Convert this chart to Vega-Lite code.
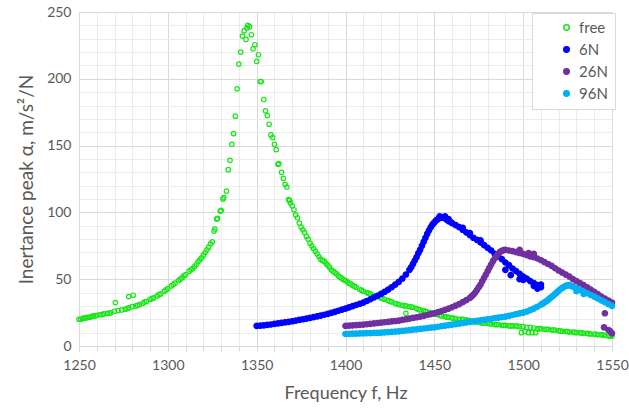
{
"$schema":"https://vega.github.io/schema/vega-lite/v6.json",
"width":533,"height":334,
"autosize":{"type":"none"},
"padding":{"left":79,"top":12,"right":17,"bottom":62},
"background":"white",
"config":{"view":{"stroke":null},"font":"Lato"},
"data":{"values":[
{"s":"free","f":1250,"a":20},{"s":"free","f":1251,"a":20},{"s":"free","f":1252,"a":20.5},{"s":"free","f":1253,"a":21},{"s":"free","f":1254,"a":21},{"s":"free","f":1255,"a":21.5},{"s":"free","f":1256,"a":21.5},{"s":"free","f":1257,"a":22},{"s":"free","f":1258,"a":22.5},{"s":"free","f":1259,"a":22.5},{"s":"free","f":1260,"a":23},{"s":"free","f":1262,"a":23.5},{"s":"free","f":1263,"a":23.5},{"s":"free","f":1264,"a":24},{"s":"free","f":1266,"a":24.5},{"s":"free","f":1267,"a":24.5},{"s":"free","f":1268,"a":25},{"s":"free","f":1270,"a":26},{"s":"free","f":1270.5,"a":32.5},{"s":"free","f":1272,"a":26.5},{"s":"free","f":1274,"a":27},{"s":"free","f":1276,"a":27.5},{"s":"free","f":1277,"a":28},{"s":"free","f":1278,"a":28.5},{"s":"free","f":1278,"a":37},{"s":"free","f":1280,"a":29.5},{"s":"free","f":1280.5,"a":38},{"s":"free","f":1282,"a":30},{"s":"free","f":1283,"a":30.5},{"s":"free","f":1284,"a":31},{"s":"free","f":1286,"a":32},{"s":"free","f":1287,"a":33},{"s":"free","f":1288,"a":33.5},{"s":"free","f":1290,"a":35},{"s":"free","f":1291,"a":35.5},{"s":"free","f":1292,"a":36},{"s":"free","f":1294,"a":37.5},{"s":"free","f":1295,"a":38.5},{"s":"free","f":1296,"a":39},{"s":"free","f":1298,"a":41},{"s":"free","f":1299,"a":42},{"s":"free","f":1300,"a":43},{"s":"free","f":1302,"a":45},{"s":"free","f":1303,"a":46},{"s":"free","f":1304,"a":47},{"s":"free","f":1306,"a":49},{"s":"free","f":1307,"a":50},{"s":"free","f":1308,"a":51},{"s":"free","f":1309,"a":52.5},{"s":"free","f":1310,"a":53.5},{"s":"free","f":1312,"a":56},{"s":"free","f":1313,"a":57},{"s":"free","f":1314,"a":58},{"s":"free","f":1315,"a":59.5},{"s":"free","f":1316,"a":61},{"s":"free","f":1317,"a":63},{"s":"free","f":1318,"a":64.5},{"s":"free","f":1319,"a":66},{"s":"free","f":1320,"a":68},{"s":"free","f":1321,"a":70},{"s":"free","f":1322,"a":72},{"s":"free","f":1323,"a":74},{"s":"free","f":1324,"a":76.5},{"s":"free","f":1325,"a":78},{"s":"free","f":1326,"a":86},{"s":"free","f":1326.5,"a":87.5},{"s":"free","f":1327.5,"a":95},{"s":"free","f":1328,"a":95.5},{"s":"free","f":1329.5,"a":101},{"s":"free","f":1330,"a":101.5},{"s":"free","f":1331,"a":110},{"s":"free","f":1331.5,"a":111},{"s":"free","f":1333,"a":116},{"s":"free","f":1334,"a":132},{"s":"free","f":1335,"a":139},{"s":"free","f":1336,"a":151},{"s":"free","f":1337,"a":159},{"s":"free","f":1338,"a":172},{"s":"free","f":1339,"a":192.5},{"s":"free","f":1340,"a":211},{"s":"free","f":1341,"a":220},{"s":"free","f":1342,"a":232},{"s":"free","f":1343,"a":236},{"s":"free","f":1344,"a":229.5},{"s":"free","f":1344.5,"a":238},{"s":"free","f":1345,"a":240},{"s":"free","f":1346,"a":239},{"s":"free","f":1347,"a":233},{"s":"free","f":1348,"a":222.5},{"s":"free","f":1349,"a":225.5},{"s":"free","f":1350,"a":213},{"s":"free","f":1351,"a":218},{"s":"free","f":1352,"a":198},{"s":"free","f":1352.5,"a":198},{"s":"free","f":1354,"a":184.5},{"s":"free","f":1355,"a":176},{"s":"free","f":1356,"a":172.5},{"s":"free","f":1357,"a":166},{"s":"free","f":1358,"a":158},{"s":"free","f":1359,"a":156},{"s":"free","f":1360,"a":151},{"s":"free","f":1361,"a":147},{"s":"free","f":1362,"a":136},{"s":"free","f":1362.5,"a":136.5},{"s":"free","f":1364,"a":130},{"s":"free","f":1365,"a":125.5},{"s":"free","f":1366,"a":121},{"s":"free","f":1367,"a":119},{"s":"free","f":1368,"a":109.5},{"s":"free","f":1368.5,"a":109},{"s":"free","f":1369,"a":107},{"s":"free","f":1370,"a":105},{"s":"free","f":1371,"a":102},{"s":"free","f":1372,"a":98},{"s":"free","f":1373,"a":96},{"s":"free","f":1374,"a":92},{"s":"free","f":1375,"a":89},{"s":"free","f":1376,"a":87},{"s":"free","f":1377,"a":85},{"s":"free","f":1378,"a":82},{"s":"free","f":1379,"a":80},{"s":"free","f":1380,"a":77},{"s":"free","f":1381,"a":75},{"s":"free","f":1382,"a":73},{"s":"free","f":1383,"a":71},{"s":"free","f":1384,"a":69},{"s":"free","f":1385,"a":67},{"s":"free","f":1386,"a":65},{"s":"free","f":1387,"a":64},{"s":"free","f":1388,"a":63.5},{"s":"free","f":1389,"a":62},{"s":"free","f":1390,"a":60.5},{"s":"free","f":1391,"a":59},{"s":"free","f":1392,"a":57},{"s":"free","f":1393,"a":56},{"s":"free","f":1394,"a":55},{"s":"free","f":1395,"a":54},{"s":"free","f":1396,"a":52.5},{"s":"free","f":1397,"a":51.5},{"s":"free","f":1398,"a":50.5},{"s":"free","f":1399,"a":49.5},{"s":"free","f":1400,"a":49},{"s":"free","f":1401,"a":48},{"s":"free","f":1402,"a":47},{"s":"free","f":1403,"a":46.5},{"s":"free","f":1404,"a":45.5},{"s":"free","f":1405,"a":44.8},{"s":"free","f":1406,"a":44},{"s":"free","f":1408,"a":42.5},{"s":"free","f":1409,"a":41.8},{"s":"free","f":1410,"a":41},{"s":"free","f":1412,"a":40},{"s":"free","f":1413,"a":39.5},{"s":"free","f":1414,"a":39},{"s":"free","f":1416,"a":38},{"s":"free","f":1417,"a":37.5},{"s":"free","f":1418,"a":37},{"s":"free","f":1420,"a":36},{"s":"free","f":1421,"a":35.5},{"s":"free","f":1422,"a":35},{"s":"free","f":1424,"a":34},{"s":"free","f":1425,"a":33.5},{"s":"free","f":1426,"a":33},{"s":"free","f":1428,"a":32},{"s":"free","f":1429,"a":31.5},{"s":"free","f":1430,"a":31},{"s":"free","f":1432,"a":30.5},{"s":"free","f":1433,"a":30.2},{"s":"free","f":1434,"a":30},{"s":"free","f":1434,"a":24.5},{"s":"free","f":1436,"a":29.5},{"s":"free","f":1437,"a":29.2},{"s":"free","f":1438,"a":29},{"s":"free","f":1440,"a":28},{"s":"free","f":1441,"a":27.5},{"s":"free","f":1442,"a":27},{"s":"free","f":1444,"a":26.5},{"s":"free","f":1445,"a":26},{"s":"free","f":1446,"a":25.5},{"s":"free","f":1448,"a":25},{"s":"free","f":1449,"a":24.5},{"s":"free","f":1450,"a":24},{"s":"free","f":1452,"a":23.5},{"s":"free","f":1453,"a":23},{"s":"free","f":1454,"a":22.5},{"s":"free","f":1456,"a":22},{"s":"free","f":1457,"a":21.8},{"s":"free","f":1458,"a":21.5},{"s":"free","f":1460,"a":21},{"s":"free","f":1461,"a":20.8},{"s":"free","f":1462,"a":20.5},{"s":"free","f":1464,"a":20},{"s":"free","f":1465,"a":20},{"s":"free","f":1466,"a":20},{"s":"free","f":1468,"a":19.5},{"s":"free","f":1469,"a":19.2},{"s":"free","f":1470,"a":19},{"s":"free","f":1472,"a":18.5},{"s":"free","f":1473,"a":18.2},{"s":"free","f":1474,"a":18},{"s":"free","f":1476,"a":17.5},{"s":"free","f":1477,"a":17.2},{"s":"free","f":1478,"a":17},{"s":"free","f":1480,"a":17},{"s":"free","f":1481,"a":16.8},{"s":"free","f":1482,"a":16.5},{"s":"free","f":1484,"a":16},{"s":"free","f":1485,"a":16},{"s":"free","f":1486,"a":16},{"s":"free","f":1488,"a":15.5},{"s":"free","f":1489,"a":15.5},{"s":"free","f":1490,"a":15.5},{"s":"free","f":1492,"a":15},{"s":"free","f":1493,"a":15},{"s":"free","f":1494,"a":15},{"s":"free","f":1496,"a":15},{"s":"free","f":1497,"a":14.8},{"s":"free","f":1498,"a":14.5},{"s":"free","f":1499,"a":10},{"s":"free","f":1500,"a":14.5},{"s":"free","f":1501,"a":11},{"s":"free","f":1502,"a":14},{"s":"free","f":1503,"a":10},{"s":"free","f":1504,"a":14},{"s":"free","f":1505,"a":10},{"s":"free","f":1506,"a":13.5},{"s":"free","f":1507,"a":10},{"s":"free","f":1508,"a":13},{"s":"free","f":1509,"a":13},{"s":"free","f":1510,"a":13},{"s":"free","f":1512,"a":12.5},{"s":"free","f":1513,"a":12.5},{"s":"free","f":1514,"a":12.5},{"s":"free","f":1516,"a":12},{"s":"free","f":1517,"a":12},{"s":"free","f":1518,"a":12},{"s":"free","f":1520,"a":11.5},{"s":"free","f":1521,"a":11.2},{"s":"free","f":1522,"a":11},{"s":"free","f":1524,"a":11},{"s":"free","f":1525,"a":10.8},{"s":"free","f":1526,"a":10.5},{"s":"free","f":1528,"a":10.5},{"s":"free","f":1529,"a":10.2},{"s":"free","f":1530,"a":10},{"s":"free","f":1532,"a":10},{"s":"free","f":1533,"a":9.8},{"s":"free","f":1534,"a":9.5},{"s":"free","f":1536,"a":9.5},{"s":"free","f":1537,"a":9.2},{"s":"free","f":1538,"a":9},{"s":"free","f":1540,"a":9},{"s":"free","f":1541,"a":8.8},{"s":"free","f":1542,"a":8.5},{"s":"free","f":1544,"a":8.5},{"s":"free","f":1545,"a":8.2},{"s":"free","f":1546,"a":8},{"s":"free","f":1548,"a":7.5},{"s":"free","f":1549,"a":7.5},{"s":"free","f":1550,"a":7.5},
{"s":"6N","f":1350,"a":15},{"s":"6N","f":1352,"a":15.2},{"s":"6N","f":1354,"a":15.5},{"s":"6N","f":1356,"a":15.8},{"s":"6N","f":1358,"a":16.1},{"s":"6N","f":1360,"a":16.5},{"s":"6N","f":1362,"a":16.9},{"s":"6N","f":1364,"a":17.3},{"s":"6N","f":1366,"a":17.7},{"s":"6N","f":1368,"a":18.1},{"s":"6N","f":1370,"a":18.5},{"s":"6N","f":1372,"a":19},{"s":"6N","f":1374,"a":19.5},{"s":"6N","f":1376,"a":20},{"s":"6N","f":1378,"a":20.5},{"s":"6N","f":1380,"a":21},{"s":"6N","f":1382,"a":21.6},{"s":"6N","f":1384,"a":22.2},{"s":"6N","f":1386,"a":22.8},{"s":"6N","f":1388,"a":23.4},{"s":"6N","f":1390,"a":24},{"s":"6N","f":1392,"a":24.8},{"s":"6N","f":1394,"a":25.6},{"s":"6N","f":1396,"a":26.4},{"s":"6N","f":1398,"a":27.2},{"s":"6N","f":1400,"a":28},{"s":"6N","f":1402,"a":28.9},{"s":"6N","f":1404,"a":29.8},{"s":"6N","f":1406,"a":30.7},{"s":"6N","f":1408,"a":31.6},{"s":"6N","f":1410,"a":32.5},{"s":"6N","f":1412,"a":33.7},{"s":"6N","f":1414,"a":35},{"s":"6N","f":1416,"a":36.3},{"s":"6N","f":1418,"a":37.6},{"s":"6N","f":1420,"a":39},{"s":"6N","f":1422,"a":40.5},{"s":"6N","f":1424,"a":42.2},{"s":"6N","f":1426,"a":44},{"s":"6N","f":1428,"a":46},{"s":"6N","f":1430,"a":48},{"s":"6N","f":1432,"a":50.5},{"s":"6N","f":1434,"a":53.5},{"s":"6N","f":1436,"a":57},{"s":"6N","f":1437,"a":59},{"s":"6N","f":1438,"a":61.5},{"s":"6N","f":1439,"a":64},{"s":"6N","f":1440,"a":66.5},{"s":"6N","f":1441,"a":69.5},{"s":"6N","f":1442,"a":72},{"s":"6N","f":1443,"a":75},{"s":"6N","f":1444,"a":78},{"s":"6N","f":1445,"a":81},{"s":"6N","f":1446,"a":84},{"s":"6N","f":1447,"a":86.5},{"s":"6N","f":1448,"a":89},{"s":"6N","f":1449,"a":91},{"s":"6N","f":1450,"a":92.5},{"s":"6N","f":1451,"a":94},{"s":"6N","f":1452,"a":95},{"s":"6N","f":1453,"a":95.8},{"s":"6N","f":1453,"a":97},{"s":"6N","f":1454,"a":96},{"s":"6N","f":1455,"a":96.2},{"s":"6N","f":1456,"a":95.5},{"s":"6N","f":1456,"a":97},{"s":"6N","f":1457,"a":94.5},{"s":"6N","f":1458,"a":93.5},{"s":"6N","f":1458,"a":95},{"s":"6N","f":1459,"a":93},{"s":"6N","f":1460,"a":92},{"s":"6N","f":1462,"a":90.5},{"s":"6N","f":1464,"a":89},{"s":"6N","f":1466,"a":87},{"s":"6N","f":1466,"a":88.5},{"s":"6N","f":1468,"a":85},{"s":"6N","f":1470,"a":83},{"s":"6N","f":1470,"a":84.5},{"s":"6N","f":1472,"a":81},{"s":"6N","f":1474,"a":79.5},{"s":"6N","f":1476,"a":77.5},{"s":"6N","f":1476,"a":79},{"s":"6N","f":1478,"a":75.5},{"s":"6N","f":1480,"a":73.5},{"s":"6N","f":1482,"a":71.5},{"s":"6N","f":1484,"a":69},{"s":"6N","f":1486,"a":67},{"s":"6N","f":1488,"a":65},{"s":"6N","f":1490,"a":62.5},{"s":"6N","f":1490,"a":57},{"s":"6N","f":1492,"a":60.5},{"s":"6N","f":1493,"a":53},{"s":"6N","f":1494,"a":58},{"s":"6N","f":1496,"a":56},{"s":"6N","f":1498,"a":54},{"s":"6N","f":1498,"a":50},{"s":"6N","f":1500,"a":52},{"s":"6N","f":1500,"a":49.5},{"s":"6N","f":1502,"a":50.5},{"s":"6N","f":1504,"a":48.5},{"s":"6N","f":1506,"a":47},{"s":"6N","f":1506,"a":45},{"s":"6N","f":1508,"a":45.5},{"s":"6N","f":1508,"a":43},{"s":"6N","f":1510,"a":44},{"s":"6N","f":1510,"a":46},
{"s":"26N","f":1400,"a":15},{"s":"26N","f":1402,"a":15.2},{"s":"26N","f":1404,"a":15.4},{"s":"26N","f":1406,"a":15.6},{"s":"26N","f":1408,"a":15.8},{"s":"26N","f":1410,"a":16},{"s":"26N","f":1412,"a":16.3},{"s":"26N","f":1414,"a":16.6},{"s":"26N","f":1416,"a":16.9},{"s":"26N","f":1418,"a":17.2},{"s":"26N","f":1420,"a":17.5},{"s":"26N","f":1422,"a":17.8},{"s":"26N","f":1424,"a":18.1},{"s":"26N","f":1426,"a":18.4},{"s":"26N","f":1428,"a":18.7},{"s":"26N","f":1430,"a":19},{"s":"26N","f":1432,"a":19.5},{"s":"26N","f":1434,"a":20},{"s":"26N","f":1436,"a":20.5},{"s":"26N","f":1438,"a":21},{"s":"26N","f":1440,"a":21.5},{"s":"26N","f":1442,"a":22},{"s":"26N","f":1444,"a":22.6},{"s":"26N","f":1446,"a":23.2},{"s":"26N","f":1448,"a":23.8},{"s":"26N","f":1450,"a":24.5},{"s":"26N","f":1452,"a":25.3},{"s":"26N","f":1454,"a":26.1},{"s":"26N","f":1456,"a":27},{"s":"26N","f":1458,"a":28},{"s":"26N","f":1460,"a":29},{"s":"26N","f":1462,"a":30.2},{"s":"26N","f":1464,"a":31.4},{"s":"26N","f":1466,"a":32.8},{"s":"26N","f":1468,"a":34.3},{"s":"26N","f":1470,"a":36},{"s":"26N","f":1471,"a":37.2},{"s":"26N","f":1472,"a":38.5},{"s":"26N","f":1473,"a":40},{"s":"26N","f":1474,"a":42},{"s":"26N","f":1475,"a":44},{"s":"26N","f":1476,"a":46},{"s":"26N","f":1477,"a":48.5},{"s":"26N","f":1478,"a":51},{"s":"26N","f":1479,"a":53.5},{"s":"26N","f":1480,"a":56},{"s":"26N","f":1481,"a":58.5},{"s":"26N","f":1482,"a":61},{"s":"26N","f":1483,"a":63.5},{"s":"26N","f":1484,"a":65.5},{"s":"26N","f":1485,"a":67.5},{"s":"26N","f":1486,"a":69},{"s":"26N","f":1487,"a":70.5},{"s":"26N","f":1488,"a":71.2},{"s":"26N","f":1489,"a":71.8},{"s":"26N","f":1490,"a":72},{"s":"26N","f":1492,"a":71.5},{"s":"26N","f":1494,"a":71},{"s":"26N","f":1496,"a":70.3},{"s":"26N","f":1498,"a":69.6},{"s":"26N","f":1498,"a":72},{"s":"26N","f":1500,"a":69},{"s":"26N","f":1502,"a":68},{"s":"26N","f":1503,"a":69.5},{"s":"26N","f":1504,"a":67},{"s":"26N","f":1505,"a":68.5},{"s":"26N","f":1506,"a":66.5},{"s":"26N","f":1506,"a":69},{"s":"26N","f":1508,"a":65.5},{"s":"26N","f":1510,"a":64.2},{"s":"26N","f":1512,"a":62.8},{"s":"26N","f":1514,"a":61.4},{"s":"26N","f":1516,"a":60},{"s":"26N","f":1518,"a":58.2},{"s":"26N","f":1520,"a":56.5},{"s":"26N","f":1522,"a":55},{"s":"26N","f":1524,"a":53.5},{"s":"26N","f":1526,"a":52},{"s":"26N","f":1528,"a":50},{"s":"26N","f":1530,"a":48.5},{"s":"26N","f":1532,"a":47},{"s":"26N","f":1534,"a":45.5},{"s":"26N","f":1536,"a":44},{"s":"26N","f":1538,"a":42.2},{"s":"26N","f":1540,"a":40.5},{"s":"26N","f":1542,"a":38.8},{"s":"26N","f":1544,"a":37},{"s":"26N","f":1546,"a":35.5},{"s":"26N","f":1548,"a":34},{"s":"26N","f":1550,"a":32.5},{"s":"26N","f":1546,"a":24.5},{"s":"26N","f":1545.5,"a":14},{"s":"26N","f":1548,"a":12},{"s":"26N","f":1549,"a":11},{"s":"26N","f":1550,"a":9.5},
{"s":"96N","f":1400,"a":9},{"s":"96N","f":1402,"a":9.1},{"s":"96N","f":1404,"a":9.2},{"s":"96N","f":1406,"a":9.3},{"s":"96N","f":1408,"a":9.4},{"s":"96N","f":1410,"a":9.5},{"s":"96N","f":1412,"a":9.6},{"s":"96N","f":1414,"a":9.7},{"s":"96N","f":1416,"a":9.8},{"s":"96N","f":1418,"a":9.9},{"s":"96N","f":1420,"a":10},{"s":"96N","f":1422,"a":10.2},{"s":"96N","f":1424,"a":10.4},{"s":"96N","f":1426,"a":10.6},{"s":"96N","f":1428,"a":10.8},{"s":"96N","f":1430,"a":11},{"s":"96N","f":1432,"a":11.3},{"s":"96N","f":1434,"a":11.6},{"s":"96N","f":1436,"a":11.9},{"s":"96N","f":1438,"a":12.2},{"s":"96N","f":1440,"a":12.5},{"s":"96N","f":1442,"a":12.8},{"s":"96N","f":1444,"a":13.1},{"s":"96N","f":1446,"a":13.4},{"s":"96N","f":1448,"a":13.7},{"s":"96N","f":1450,"a":14},{"s":"96N","f":1452,"a":14.4},{"s":"96N","f":1454,"a":14.8},{"s":"96N","f":1456,"a":15.2},{"s":"96N","f":1458,"a":15.6},{"s":"96N","f":1460,"a":16},{"s":"96N","f":1462,"a":16.4},{"s":"96N","f":1464,"a":16.8},{"s":"96N","f":1466,"a":17.2},{"s":"96N","f":1468,"a":17.6},{"s":"96N","f":1470,"a":18},{"s":"96N","f":1472,"a":18.4},{"s":"96N","f":1474,"a":18.8},{"s":"96N","f":1476,"a":19.2},{"s":"96N","f":1478,"a":19.6},{"s":"96N","f":1480,"a":20},{"s":"96N","f":1482,"a":20.4},{"s":"96N","f":1484,"a":20.8},{"s":"96N","f":1486,"a":21.2},{"s":"96N","f":1488,"a":21.6},{"s":"96N","f":1490,"a":22},{"s":"96N","f":1492,"a":22.6},{"s":"96N","f":1494,"a":23.2},{"s":"96N","f":1496,"a":23.8},{"s":"96N","f":1498,"a":24.4},{"s":"96N","f":1500,"a":25},{"s":"96N","f":1502,"a":25.8},{"s":"96N","f":1504,"a":26.8},{"s":"96N","f":1506,"a":28},{"s":"96N","f":1508,"a":29.4},{"s":"96N","f":1510,"a":31},{"s":"96N","f":1511,"a":31.8},{"s":"96N","f":1512,"a":32.6},{"s":"96N","f":1513,"a":33.5},{"s":"96N","f":1514,"a":34.5},{"s":"96N","f":1515,"a":35.6},{"s":"96N","f":1516,"a":36.7},{"s":"96N","f":1517,"a":37.8},{"s":"96N","f":1518,"a":39},{"s":"96N","f":1519,"a":40.2},{"s":"96N","f":1520,"a":41.4},{"s":"96N","f":1521,"a":42.5},{"s":"96N","f":1522,"a":43.5},{"s":"96N","f":1523,"a":44.3},{"s":"96N","f":1524,"a":45},{"s":"96N","f":1525,"a":45.4},{"s":"96N","f":1526,"a":45.5},{"s":"96N","f":1527,"a":45},{"s":"96N","f":1528,"a":44.5},{"s":"96N","f":1530,"a":43.2},{"s":"96N","f":1530,"a":41},{"s":"96N","f":1532,"a":42},{"s":"96N","f":1534,"a":40.7},{"s":"96N","f":1534,"a":39},{"s":"96N","f":1536,"a":39.5},{"s":"96N","f":1538,"a":38.2},{"s":"96N","f":1540,"a":37},{"s":"96N","f":1542,"a":35.6},{"s":"96N","f":1544,"a":34.2},{"s":"96N","f":1546,"a":32.8},{"s":"96N","f":1548,"a":31.4},{"s":"96N","f":1550,"a":30}
]},
"mark":{"type":"point","shape":"circle","strokeWidth":1.2,"opacity":1},
"encoding":{
"x":{"field":"f","type":"quantitative","scale":{"domain":[1250,1550],"nice":false,"zero":false},
"axis":{"values":[1250,1260,1270,1280,1290,1300,1310,1320,1330,1340,1350,1360,1370,1380,1390,1400,1410,1420,1430,1440,1450,1460,1470,1480,1490,1500,1510,1520,1530,1540,1550],
"format":"d","labelExpr":"datum.value % 50 === 0 ? datum.label : ''","labelOverlap":false,"labelFlush":false,
"grid":true,"gridColor":{"condition":{"test":"datum.value % 50 === 0","value":"#d9d9d9"},"value":"#ececec"},"gridWidth":1,
"domainColor":"#d9d9d9","tickColor":"#d9d9d9","tickSize":5,
"labelFont":"Lato","labelFontSize":14,"labelColor":"#595959","labelPadding":7,
"title":"Frequency f, Hz","titleFont":"Lato","titleFontSize":18,"titleColor":"#595959","titleFontWeight":"normal","titlePadding":12}},
"y":{"field":"a","type":"quantitative","scale":{"domain":[0,250],"nice":false},
"axis":{"values":[0,10,20,30,40,50,60,70,80,90,100,110,120,130,140,150,160,170,180,190,200,210,220,230,240,250],
"labelExpr":"datum.value % 50 === 0 ? datum.label : ''","labelOverlap":false,"labelFlush":false,
"grid":true,"gridColor":{"condition":{"test":"datum.value % 50 === 0","value":"#d9d9d9"},"value":"#ececec"},"gridWidth":1,
"domainColor":"#d9d9d9","ticks":false,
"labelFont":"Lato","labelFontSize":14,"labelColor":"#595959","labelPadding":8,
"title":"Inertance peak α, m/s²/N","titleFont":"Lato","titleFontSize":19,"titleColor":"#595959","titleFontWeight":"normal","titlePadding":10}},
"size":{"condition":{"test":"datum.s === 'free'","value":20},"value":30},
"stroke":{"field":"s","type":"nominal","scale":{"domain":["free","6N","26N","96N"],"range":["#19e619","#0000ff","#7030a0","#00b0f0"]},
"legend":{"orient":"none","legendX":453,"legendY":1,"title":null,"strokeColor":"#d9d9d9","fillColor":"white","padding":7,"symbolOffset":20,"labelFont":"Lato","labelFontSize":15,"labelColor":"#595959","symbolSize":30,"symbolStrokeWidth":1.5,"rowPadding":6,"labelOffset":5,"symbolType":"circle"}},
"fill":{"field":"s","type":"nominal","scale":{"domain":["free","6N","26N","96N"],"range":["transparent","#0000ff","#7030a0","#00b0f0"]},
"legend":{"orient":"none","legendX":453,"legendY":1,"title":null,"strokeColor":"#d9d9d9","fillColor":"white","padding":7,"symbolOffset":20,"labelFont":"Lato","labelFontSize":15,"labelColor":"#595959","symbolSize":30,"symbolStrokeWidth":1.5,"rowPadding":6,"labelOffset":5,"symbolType":"circle"}}
}
}
